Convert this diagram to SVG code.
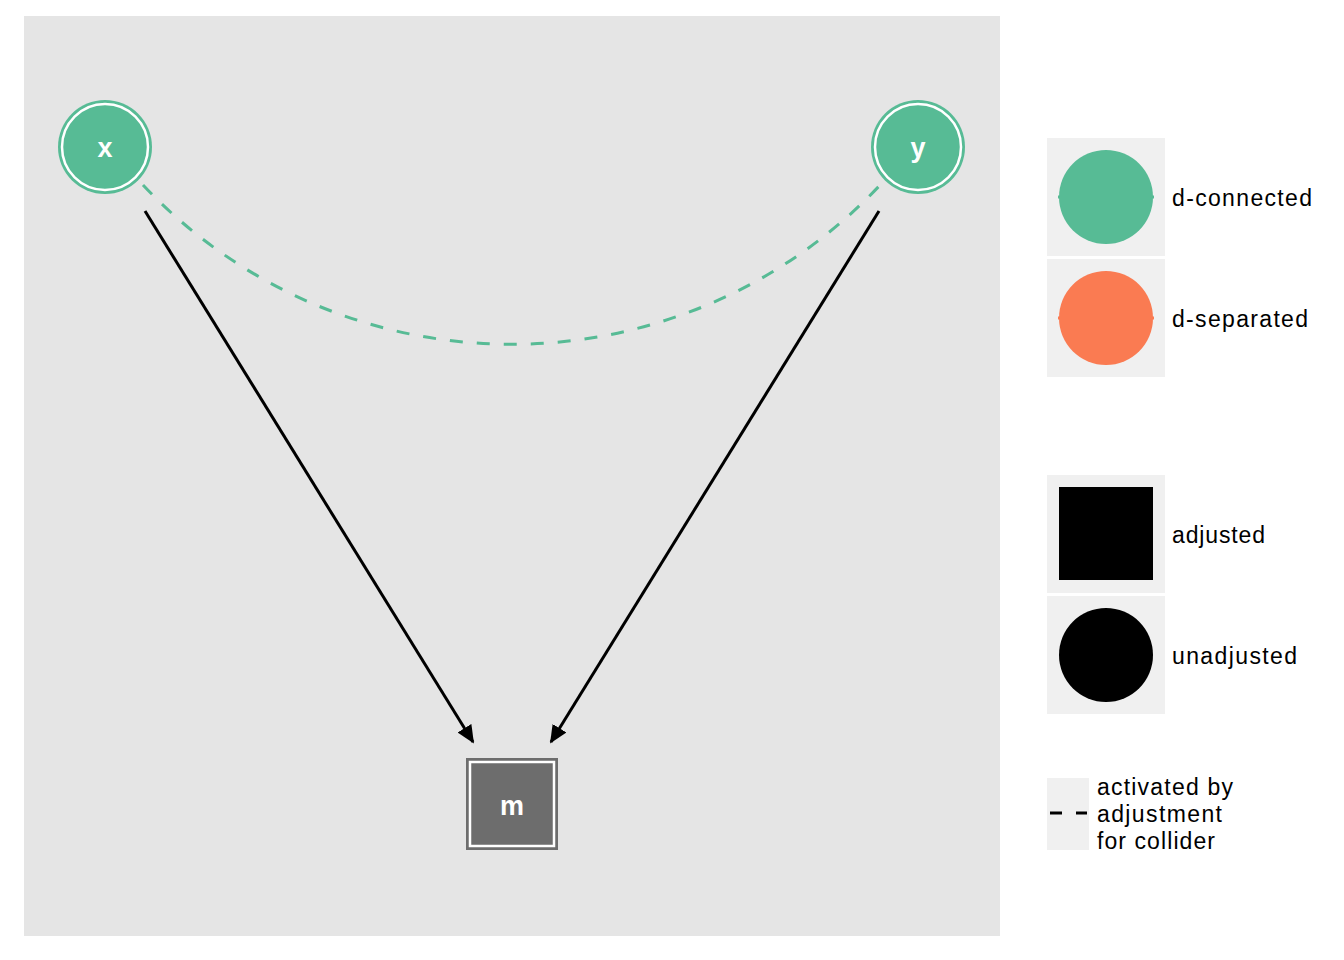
<svg xmlns="http://www.w3.org/2000/svg" width="1344" height="960" viewBox="0 0 1344 960">
<style>
.lbl{font-family:"Liberation Sans",Arial,sans-serif;font-size:23px;fill:#000}
.nl{font-family:"Liberation Sans",Arial,sans-serif;font-size:27px;font-weight:bold;fill:#fff;text-anchor:middle}
.key{fill:#F0F0F0}
.edge{stroke:#000;stroke-width:3;fill:none}
</style>
<defs>
<marker id="ah2" viewBox="0 0 10 10" refX="9" refY="5" markerWidth="6" markerHeight="6" orient="auto">
<path d="M0,0.5 L10,5 L0,9.5 Z" fill="#000"/>
</marker>
</defs>
<rect width="1344" height="960" fill="#fff"/>
<rect x="24" y="16" width="976" height="920" fill="#E5E5E5"/>
<g id="connectors">
<path d="M143,185 A506,506 0 0 0 882,183" stroke="#57BB95" stroke-width="3" fill="none" stroke-dasharray="13,14"/>
<line x1="145" y1="211" x2="473" y2="742" class="edge" marker-end="url(#ah2)"/>
<line x1="879" y1="211" x2="551" y2="742" class="edge" marker-end="url(#ah2)"/>
</g>
<g id="node-x">
<circle cx="105" cy="147" r="47" fill="#57BB95"/>
<circle cx="105" cy="147" r="43" fill="none" stroke="#fff" stroke-width="2.5"/>
<text x="105" y="157" class="nl">x</text>
</g>
<g id="node-y">
<circle cx="918" cy="147" r="47" fill="#57BB95"/>
<circle cx="918" cy="147" r="43" fill="none" stroke="#fff" stroke-width="2.5"/>
<text x="918" y="157" class="nl">y</text>
</g>
<g id="node-m">
<rect x="466" y="758" width="92" height="92" fill="#6D6D6D"/>
<rect x="470" y="762" width="84" height="84" fill="none" stroke="#fff" stroke-width="2.5"/>
<text x="512" y="815" class="nl">m</text>
</g>
<g id="legend">
<rect x="1047" y="138" width="118" height="118" class="key"/>
<line x1="1058" y1="197" x2="1154" y2="197" stroke="#57BB95" stroke-width="3"/>
<circle cx="1106" cy="197" r="47" fill="#57BB95"/>
<text x="1172" y="206" class="lbl" textLength="140" lengthAdjust="spacing">d-connected</text>
<rect x="1047" y="259" width="118" height="118" class="key"/>
<line x1="1058" y1="318" x2="1154" y2="318" stroke="#FA7B52" stroke-width="3"/>
<circle cx="1106" cy="318" r="47" fill="#FA7B52"/>
<text x="1172" y="327" class="lbl" textLength="136" lengthAdjust="spacing">d-separated</text>
<rect x="1047" y="475" width="118" height="118" class="key"/>
<rect x="1059" y="487" width="94" height="93" fill="#000"/>
<text x="1172" y="543" class="lbl" textLength="93" lengthAdjust="spacing">adjusted</text>
<rect x="1047" y="596" width="118" height="118" class="key"/>
<circle cx="1106" cy="655" r="47" fill="#000"/>
<text x="1172" y="664" class="lbl" textLength="125" lengthAdjust="spacing">unadjusted</text>
<rect x="1047" y="778" width="42" height="72" class="key"/>
<line x1="1050" y1="813" x2="1062" y2="813" stroke="#000" stroke-width="3"/>
<line x1="1076" y1="813" x2="1087" y2="813" stroke="#000" stroke-width="3"/>
<text class="lbl"><tspan x="1097" y="795" textLength="136" lengthAdjust="spacing">activated by</tspan><tspan x="1097" y="822" textLength="125" lengthAdjust="spacing">adjustment</tspan><tspan x="1097" y="849" textLength="118" lengthAdjust="spacing">for collider</tspan></text>
</g>
</svg>
